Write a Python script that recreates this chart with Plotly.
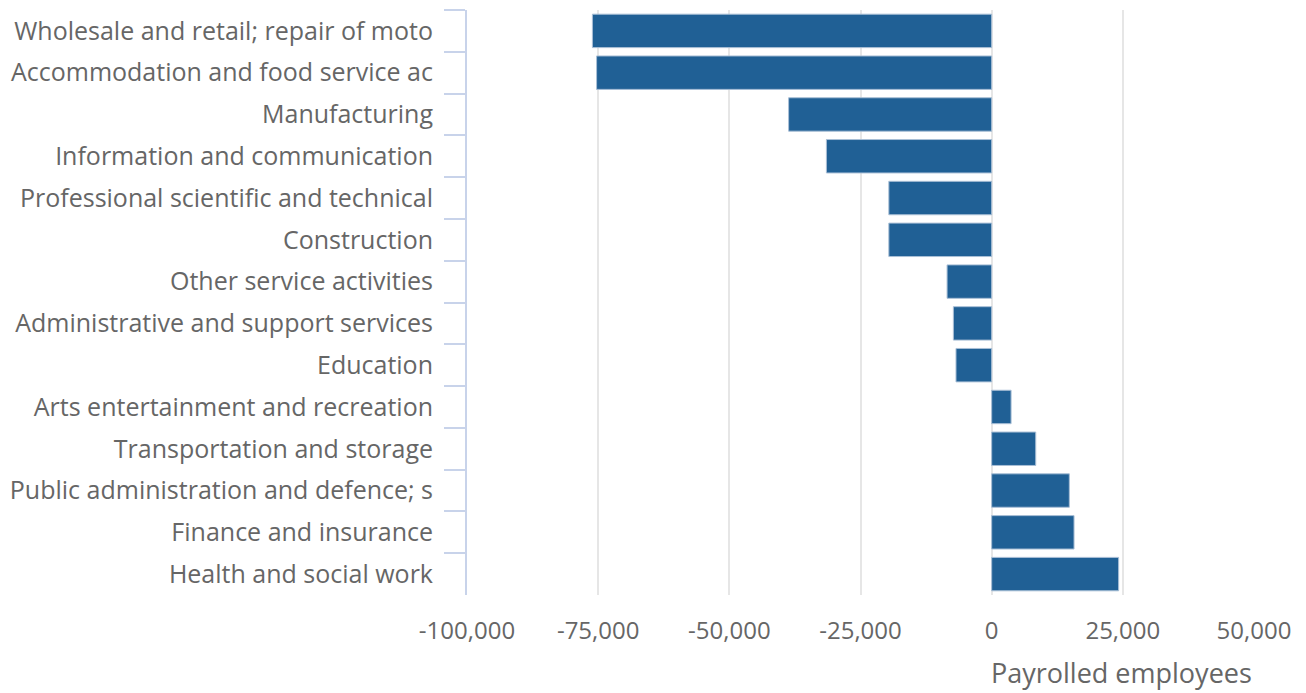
import plotly.graph_objects as go

categories = [
    "Wholesale and retail; repair of moto",
    "Accommodation and food service ac",
    "Manufacturing",
    "Information and communication",
    "Professional scientific and technical",
    "Construction",
    "Other service activities",
    "Administrative and support services",
    "Education",
    "Arts entertainment and recreation",
    "Transportation and storage",
    "Public administration and defence; s",
    "Finance and insurance",
    "Health and social work",
]
values = [-76100, -75300, -38700, -31500, -19600, -19600, -8500, -7300, -6800,
          3700, 8400, 14800, 15700, 24200]
tick_vals = [-100000, -75000, -50000, -25000, 0, 25000, 50000]
tick_text = ["-100,000", "-75,000", "-50,000", "-25,000", "0", "25,000", "50,000"]

font_color = "#666666"

fig = go.Figure(go.Bar(
    x=values, y=categories, orientation="h",
    marker=dict(color="#206095", line=dict(color="#a9bfd6", width=1)),
))

fig.update_layout(
    width=1298, height=685,
    margin=dict(l=457, r=52, t=2, b=98),
    paper_bgcolor="white", plot_bgcolor="white",
    font=dict(family="Open Sans", size=25, color=font_color),
    bargap=0.2,
    showlegend=False,
    xaxis=dict(
        range=[-100000, 50000],
        tickvals=tick_vals, ticktext=tick_text,
        showgrid=True, gridcolor="#e6e6e6", gridwidth=2,
        zeroline=False, showline=False,
        ticks="", ticklabelstandoff=19,
        tickfont=dict(size=24, color=font_color),
    ),
    yaxis=dict(
        autorange="reversed",
        showline=True, linecolor="#c8d3ea", linewidth=2,
        ticks="outside", tickson="boundaries", ticklen=21, tickcolor="#c8d3ea", tickwidth=2,
        showgrid=False, zeroline=False,
        ticklabelstandoff=27,
        tickfont=dict(size=25, color=font_color),
    ),
    annotations=[dict(
        text="Payrolled employees", x=1, xref="paper", xanchor="right",
        y=0, yref="paper", yanchor="middle", yshift=-77, showarrow=False,
        font=dict(size=27, color=font_color),
    )],
)

fig.write_html("out.html")
